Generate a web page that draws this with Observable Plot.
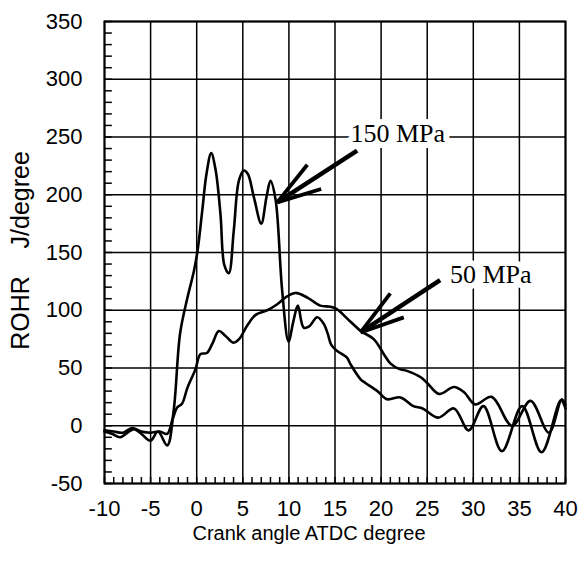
<!DOCTYPE html>
<html><head><meta charset="utf-8">
<script src="https://cdn.jsdelivr.net/npm/d3@7"></script>
<script src="https://cdn.jsdelivr.net/npm/@observablehq/plot@0.6"></script>
<style>body{margin:0;background:#fff}</style>
</head><body><div id="chart"></div>
<script>
// 150 MPa injection pressure
const x150 = [-10,-9.2,-8.3,-7.5,-6.8,-6,-5,-4.2,-3.2,-2.5,-1.8,-1.0,-0.3,0.1,0.6,1.06,1.57,2.04,2.58,3.0,3.48,4.02,4.57,5.1,5.55,6.2,7.0,7.57,8.0,8.55,9.27,9.96,10.5,10.97,11.6,12.2,13.07,13.8,14.2,14.6,15.2,16.3,16.7,17.8,18.3,19.6,20.65,22.1,23.5,24.5,26.2,27.9,29.5,31.1,33.1,35.3,37.4,39.5,40];
const y150 = [-5,-7,-10,-6,-3,-7,-13,-5,-17,13,80,111,134,152,186,218,236,222,183,139,132,169,212,221,218,198,175,198,212,196,117,73,91,104,85,86,94,88,80,70,65,59,53,40,37,30,23,24.5,17,15,7,15,-4,17,-22,17,-23,22,15];
// 50 MPa injection pressure
const x50 = [-10,-9,-8,-7,-6,-5,-4,-3.2,-2.6,-2.1,-1.6,-1.0,-0.13,0.4,1.1,1.7,2.4,3.1,4.0,4.6,5.5,6.4,7.65,8.7,9.8,10.7,12.0,13.4,14.5,15.2,16.3,17.8,19.2,20.3,21.0,22.0,22.8,24.3,25.0,26.3,27.9,29.0,30.2,32.0,34.2,36.2,38.2,39.6,40];
const y50 = [-4,-5,-6,-2,-5,-6,-5,-7,6,16,19,33,49,62,63,71,82,78,72,75,87,96,100,105,112,115,111,104,103,101,93,82,75,62,54,49,47.5,42,37,27.5,33.5,29,18.5,25,0,21.5,-6,23,18];

const xTicks = [-10,-5,0,5,10,15,20,25,30,35,40];
const yTicks = [-50,0,50,100,150,200,250,300,350];
const xMinor = d3.range(-10, 41, 1);
const yMinor = d3.range(-50, 351, 10);

const labelText = ["150 MPa", "50 MPa"];
const labelX = [21.8, 31.9];
const labelY = [253, 131];

// arrows: tip, tail, two barbs
const arrowTipX = [8.73, 17.77];
const arrowTipY = [193.4, 80.8];
const arrowTailX = [17.4, 26.4];
const arrowTailY = [238.2, 126];
const barbAX = [12.0, 21.0];
const barbAY = [226, 114.6];
const barbBX = [13.5, 22.46];
const barbBY = [205, 93.8];

const d150 = x150.map((x, i) => ({x, y: y150[i]}));
const d50 = x50.map((x, i) => ({x, y: y50[i]}));
const labels = labelText.map((t, i) => ({t, x: labelX[i], y: labelY[i]}));
const links = [];
arrowTipX.forEach((tx, i) => {
  links.push({x1: tx, y1: arrowTipY[i], x2: arrowTailX[i], y2: arrowTailY[i], w: 4.5});
  links.push({x1: tx, y1: arrowTipY[i], x2: barbAX[i], y2: barbAY[i], w: 3.8});
  links.push({x1: tx, y1: arrowTipY[i], x2: barbBX[i], y2: barbBY[i], w: 3.8});
});
const xMinorD = xMinor.map(x => ({x}));
const yMinorD = yMinor.map(y => ({y}));

const fmt = d => String(d);

const chart = Plot.plot({
  width: 581,
  height: 562,
  marginLeft: 104,
  marginRight: 16,
  marginTop: 21,
  marginBottom: 79,
  style: {fontFamily: "'Liberation Sans', Arial, sans-serif", fontSize: "20px", background: "white", color: "black"},
  x: {domain: [-10, 40]},
  y: {domain: [-50, 350]},
  marks: [
    Plot.gridX(xTicks, {stroke: "black", strokeOpacity: 1, strokeWidth: 1.5}),
    Plot.gridY(yTicks, {stroke: "black", strokeOpacity: 1, strokeWidth: 1.5}),
    Plot.ruleX(xMinorD, {x: "x", y1: () => -50, y2: () => -44.8, stroke: "black", strokeWidth: 1.5}),
    Plot.ruleY(yMinorD, {y: "y", x1: () => -10, x2: () => -9.15, stroke: "black", strokeWidth: 1.5}),
    Plot.axisX(xTicks, {tickSize: 0, tickPadding: 17, label: null, fontSize: 22, tickFormat: fmt}),
    Plot.axisY(yTicks, {tickSize: 0, tickPadding: 22, label: null, fontSize: 22, tickFormat: fmt}),
    Plot.frame({stroke: "black", strokeWidth: 2}),
    Plot.line(d150, {x: "x", y: "y", stroke: "black", strokeWidth: 2.6, curve: "catmull-rom"}),
    Plot.line(d50, {x: "x", y: "y", stroke: "black", strokeWidth: 2.6, curve: "catmull-rom"}),
    Plot.link(links, {x1: "x1", y1: "y1", x2: "x2", y2: "y2", stroke: "black", strokeWidth: "w", strokeLinecap: "butt"}),
    Plot.text(labels, {x: "x", y: "y", text: "t", fontFamily: "'Liberation Serif', 'Times New Roman', serif", fontSize: 26, fill: "black", stroke: "white", strokeWidth: 12, paintOrder: "stroke"}),
    Plot.text(["ROHR\u00a0\u00a0\u00a0\u00a0J/degree"], {frameAnchor: "left", textAnchor: "middle", rotate: -90, dx: -84, dy: -2, fontSize: 25, fill: "black"}),
    Plot.text(["Crank angle ATDC degree"], {frameAnchor: "bottom", lineAnchor: "top", dy: 42, dx: -26, fontSize: 20, fill: "black"})
  ]
});
document.getElementById("chart").appendChild(chart);
</script>
</body></html>
